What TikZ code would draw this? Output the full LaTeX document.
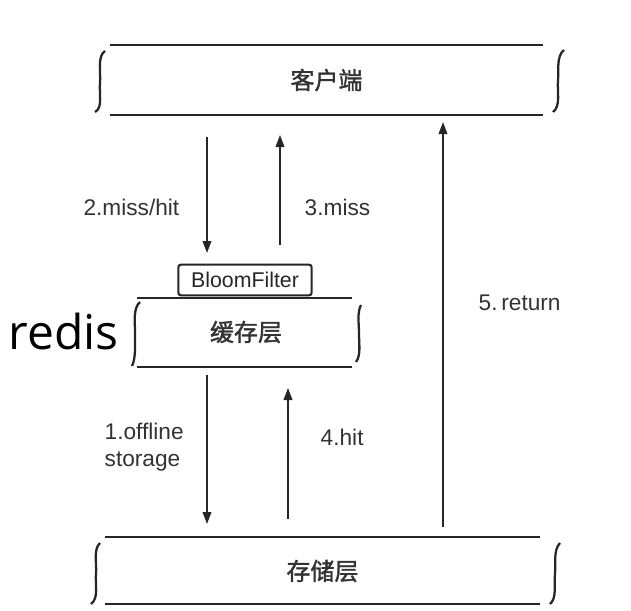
\documentclass[tikz,border=0pt]{standalone}
\usepackage{fontspec}
\setmainfont{Liberation Sans}
\newfontfamily\cjk[FakeBold=1.5]{Noto Sans CJK SC}
\newfontfamily\redisfont{Open Sans}
\usetikzlibrary{arrows.meta,calc}
\begin{document}
\begin{tikzpicture}[x=0.75pt,y=-0.75pt,
  layer/.style={minimum width=#1, inner sep=0pt, font=\cjk\fontsize{18}{22}\selectfont, text=black!80},
  edge/.style={line width=2.2pt, draw=black!85},
  brk/.style={line width=1.7pt, draw=black!85},
  flow/.style={line width=1.2pt, draw=black!85, -{Triangle[length=9pt,width=6.5pt]}},
  lbl/.style={font=\fontsize{17}{20}\selectfont, text=black!80, align=left}]
\useasboundingbox (0,0) rectangle (631,610);

% client layer
\node[layer=433pt, minimum height=52.5pt] (client) at (326.5,80) {客户端};
\draw[edge] (110,45) -- (543,45) (110,115) -- (543,115);
\draw[brk] (105,51) .. controls (97,56) and (101,74) .. (100,82) .. controls (99,94) and (103,108) .. (95,112);
\draw[brk] (564,50) .. controls (556,56) and (559,72) .. (558,80) .. controls (557,92) and (561,106) .. (553,112);

% cache layer
\node[layer=162pt, minimum height=51pt] (cache) at (246,332) {缓存层};
\draw[edge] (137,298) -- (352,298) (137,367) -- (352,367);
\draw[brk] (140,302) .. controls (133,308) and (135,322) .. (135,332) .. controls (135,344) and (136,358) .. (132,366);
\draw[brk] (361,305) .. controls (357,312) and (359,325) .. (359,333) .. controls (359,345) and (361,355) .. (356,362);
\node[draw=black!85, line width=1.6pt, rounded corners=2pt, minimum width=100pt, minimum height=23pt, inner sep=0pt,
      font=\fontsize{16}{18}\selectfont, text=black!85] (bloom) at (245,280) {BloomFilter};
\node[font=\redisfont\fontsize{36}{40}\selectfont, anchor=east, inner sep=0pt] (redis) at (119,331) {redis};

% storage layer
\node[layer=435pt, minimum height=50pt] (store) at (322.5,571) {存储层};
\draw[edge] (105,537) -- (540,537) (105,604) -- (540,604);
\draw[brk] (100,543) .. controls (93,549) and (97,565) .. (96,573) .. controls (95,585) and (99,598) .. (91,604);
\draw[brk] (560,543) .. controls (553,550) and (556,565) .. (555,573) .. controls (554,585) and (557,598) .. (550,604);

% arrow end points
\coordinate (c2a) at (207,137);
\coordinate (c2b) at (207,253);
\coordinate (c3a) at (280,245);
\coordinate (c3b) at (280,135);
\coordinate (c1a) at (207,375);
\coordinate (c1b) at (207,524);
\coordinate (c4a) at (288,519);
\coordinate (c4b) at (288,388);
\coordinate (c5a) at (443,527);
\coordinate (c5b) at (443,122);

\draw[flow] (c2a) -- (c2b);
\draw[flow] (c3a) -- (c3b);
\draw[flow] (c1a) -- (c1b);
\draw[flow] (c4a) -- (c4b);
\draw[flow] (c5a) -- (c5b);

\node[lbl, anchor=east] (l2) at (184,207) {2.miss/hit};
\node[lbl, anchor=west] (l3) at (300,207) {3.miss};
\node[lbl, anchor=west] (l5) at (474,303) {5.\,return};
\node[lbl, anchor=west] (l1) at (100,447) {1.offline\\storage};
\node[lbl, anchor=west] (l4) at (316,437) {4.hit};
\end{tikzpicture}
\end{document}
